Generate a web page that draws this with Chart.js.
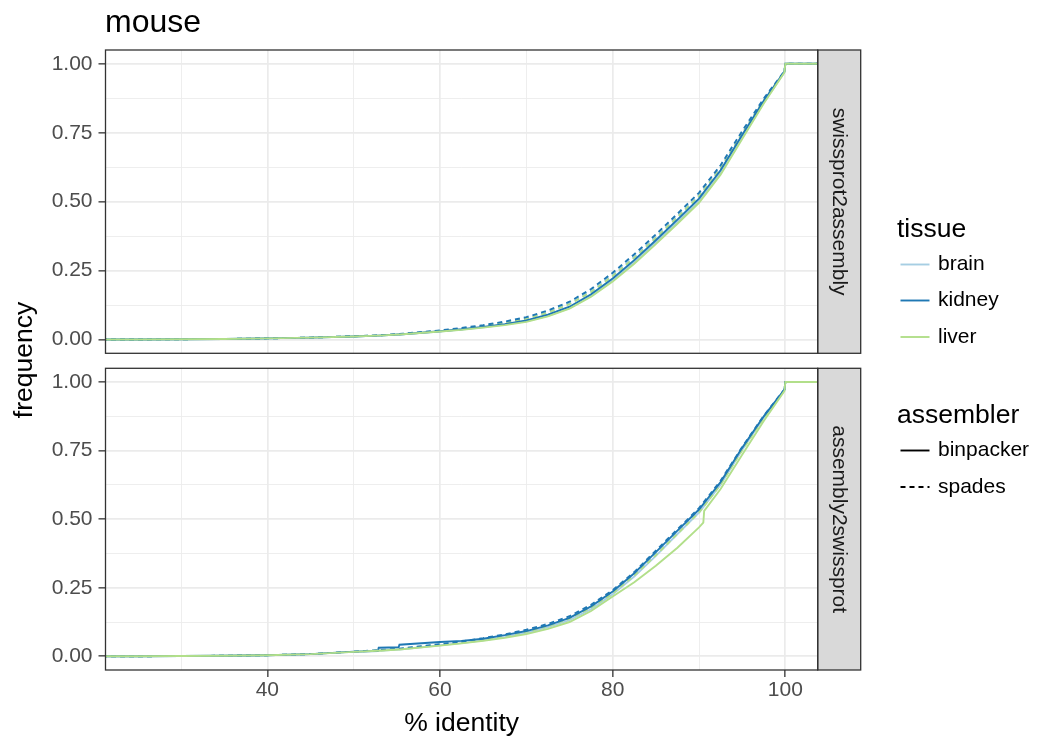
<!DOCTYPE html>
<html>
<head>
<meta charset="utf-8">
<title>mouse</title>
<script src="https://cdn.jsdelivr.net/npm/chart.js@4.4.1/dist/chart.umd.min.js"></script>
<style>
  html, body { margin: 0; padding: 0; background: #ffffff; }
  #wrap { position: relative; width: 1037px; height: 742px; overflow: hidden; }
  #wrap canvas { position: absolute; left: 0; top: 0; }
</style>
</head>
<body>
<div id="wrap">
  <canvas id="panelTop" width="1037" height="742"></canvas>
  <canvas id="panelBottom" width="1037" height="742"></canvas>
</div>
<script>
// ---- data: cumulative frequency of % identity (ECDF), sampled ----
// 0 and 110 stand in for -Inf / +Inf ends of the ECDF steps
const identity = [0, 25, 30, 35, 40, 45, 50, 52.8, 52.9, 55.2, 55.3, 60, 62.5, 65, 67.5, 70, 72.5, 75, 77.5, 80, 82.5, 85, 87.5, 90, 90.5, 90.6, 92.5, 95, 97.5, 99.9, 100, 110];

// swissprot2assembly
const s2aBrainBinpacker  = [0, 0, 0.001, 0.002, 0.004, 0.007, 0.011, 0.014, 0.014, 0.018, 0.018, 0.029, 0.036, 0.044, 0.054, 0.066, 0.086, 0.114, 0.158, 0.214, 0.280, 0.352, 0.426, 0.502, 0.523, 0.527, 0.605, 0.733, 0.860, 0.970, 1, 1];
const s2aKidneyBinpacker = [0, 0, 0.001, 0.002, 0.004, 0.007, 0.011, 0.014, 0.014, 0.018, 0.018, 0.030, 0.037, 0.046, 0.056, 0.069, 0.090, 0.119, 0.164, 0.221, 0.288, 0.360, 0.435, 0.511, 0.532, 0.536, 0.614, 0.742, 0.866, 0.972, 1, 1];
const s2aLiverBinpacker  = [0, 0, 0.001, 0.002, 0.004, 0.007, 0.011, 0.014, 0.014, 0.018, 0.018, 0.029, 0.035, 0.043, 0.052, 0.064, 0.084, 0.112, 0.155, 0.210, 0.275, 0.346, 0.420, 0.496, 0.516, 0.520, 0.598, 0.727, 0.856, 0.969, 1, 1];
const s2aBrainSpades     = [0, 0, 0.001, 0.002, 0.004, 0.007, 0.012, 0.015, 0.015, 0.020, 0.020, 0.032, 0.040, 0.050, 0.062, 0.077, 0.100, 0.131, 0.176, 0.234, 0.301, 0.373, 0.448, 0.524, 0.544, 0.548, 0.625, 0.750, 0.870, 0.972, 1, 1];
const s2aKidneySpades    = [0, 0, 0.001, 0.002, 0.004, 0.007, 0.012, 0.015, 0.015, 0.020, 0.020, 0.033, 0.042, 0.052, 0.065, 0.081, 0.105, 0.137, 0.183, 0.242, 0.309, 0.381, 0.456, 0.532, 0.552, 0.556, 0.632, 0.756, 0.874, 0.973, 1, 1];
const s2aLiverSpades     = [0, 0, 0.001, 0.002, 0.004, 0.007, 0.012, 0.015, 0.015, 0.019, 0.019, 0.031, 0.039, 0.049, 0.060, 0.075, 0.097, 0.128, 0.172, 0.230, 0.296, 0.368, 0.443, 0.519, 0.539, 0.543, 0.620, 0.746, 0.867, 0.971, 1, 1];

// assembly2swissprot
const a2sBrainBinpacker  = [0, 0, 0.001, 0.002, 0.004, 0.008, 0.016, 0.020, 0.020, 0.025, 0.025, 0.040, 0.048, 0.058, 0.070, 0.085, 0.106, 0.132, 0.172, 0.226, 0.291, 0.366, 0.446, 0.524, 0.544, 0.548, 0.626, 0.752, 0.870, 0.971, 1, 1];
const a2sKidneyBinpacker = [0, 0, 0.001, 0.002, 0.004, 0.008, 0.017, 0.019, 0.031, 0.033, 0.042, 0.052, 0.056, 0.064, 0.077, 0.092, 0.113, 0.140, 0.182, 0.236, 0.303, 0.380, 0.458, 0.535, 0.555, 0.559, 0.635, 0.760, 0.875, 0.972, 1, 1];
const a2sLiverBinpacker  = [0, 0, 0.001, 0.002, 0.004, 0.008, 0.016, 0.020, 0.020, 0.025, 0.025, 0.039, 0.047, 0.056, 0.067, 0.081, 0.100, 0.125, 0.165, 0.218, 0.270, 0.330, 0.396, 0.470, 0.487, 0.530, 0.610, 0.735, 0.858, 0.968, 1, 1];
const a2sBrainSpades     = [0, 0, 0.001, 0.002, 0.004, 0.008, 0.017, 0.021, 0.021, 0.027, 0.027, 0.043, 0.052, 0.063, 0.076, 0.092, 0.113, 0.140, 0.180, 0.232, 0.298, 0.372, 0.450, 0.528, 0.548, 0.552, 0.630, 0.755, 0.872, 0.971, 1, 1];
const a2sKidneySpades    = [0, 0, 0.001, 0.002, 0.004, 0.008, 0.017, 0.022, 0.022, 0.028, 0.028, 0.044, 0.054, 0.066, 0.080, 0.097, 0.118, 0.146, 0.188, 0.241, 0.307, 0.385, 0.463, 0.540, 0.560, 0.564, 0.640, 0.763, 0.877, 0.973, 1, 1];
const a2sLiverSpades     = [0, 0, 0.001, 0.002, 0.004, 0.008, 0.017, 0.021, 0.021, 0.026, 0.026, 0.042, 0.051, 0.061, 0.074, 0.089, 0.110, 0.137, 0.177, 0.229, 0.294, 0.368, 0.446, 0.524, 0.544, 0.548, 0.626, 0.751, 0.869, 0.970, 1, 1];

// ---- axes ----
const xMajorTicks = [40, 60, 80, 100];
const xMinorTicks = [30, 50, 70, 90];
const xTickLabels = ['40', '60', '80', '100'];
const yMajorTicks = [0, 0.25, 0.5, 0.75, 1];
const yMinorTicks = [0.125, 0.375, 0.625, 0.875];
const yTickLabels = ['0.00', '0.25', '0.50', '0.75', '1.00'];

// ---- legend / facet text ----
const tissues = ['brain', 'kidney', 'liver'];
const tissueColors = ['#a6cee3', '#1f78b4', '#b2df8a'];
const assemblers = ['binpacker', 'spades'];
const facetLabels = ['swissprot2assembly', 'assembly2swissprot'];

const FONT = '"Liberation Sans", Arial, Helvetica, sans-serif';
const DASH = [5, 4];

function series(values) {
  return values.map((v, i) => ({ x: identity[i], y: v }));
}

function lineSet(label, values, colorIdx, dashed) {
  return {
    label: label,
    data: series(values),
    borderColor: tissueColors[colorIdx],
    borderWidth: 1.9,
    borderDash: dashed ? DASH : [],
    pointRadius: 0,
    fill: false,
    tension: 0,
    spanGaps: true
  };
}

function isMajor(list, v) {
  return list.some(t => Math.abs(t - v) < 1e-9);
}

function makeScales(showX) {
  const xGrid = xMajorTicks.concat(xMinorTicks).sort((a, b) => a - b);
  const yGrid = yMajorTicks.concat(yMinorTicks).sort((a, b) => a - b);
  return {
    x: {
      type: 'linear',
      min: 21.25,
      max: 103.75,
      afterBuildTicks: s => { s.ticks = xGrid.map(v => ({ value: v })); },
      afterFit: s => { s.height = showX ? 72 : 0; },
      border: { display: false },
      grid: {
        color: '#ebebeb',
        lineWidth: c => (c.tick && isMajor(xMajorTicks, c.tick.value)) ? 1.7 : 0.85,
        drawTicks: showX,
        tickLength: 7,
        tickWidth: 1.3,
        tickColor: c => (c.tick && isMajor(xMajorTicks, c.tick.value)) ? '#333333' : 'rgba(0,0,0,0)'
      },
      ticks: {
        display: showX,
        autoSkip: false,
        maxRotation: 0,
        padding: 1,
        color: '#4d4d4d',
        font: { family: FONT, size: 21 },
        callback: v => {
          const i = xMajorTicks.findIndex(t => Math.abs(t - v) < 1e-9);
          return i >= 0 ? xTickLabels[i] : '';
        }
      },
      title: {
        display: showX,
        text: '% identity',
        color: '#000000',
        font: { family: FONT, size: 26.5 },
        padding: { top: 0, bottom: 2 }
      }
    },
    y: {
      type: 'linear',
      min: -0.05,
      max: 1.05,
      afterBuildTicks: s => { s.ticks = yGrid.map(v => ({ value: v })); },
      afterFit: s => { s.width = 105.5; },
      border: { display: false },
      grid: {
        color: '#ebebeb',
        lineWidth: c => (c.tick && isMajor(yMajorTicks, c.tick.value)) ? 1.7 : 0.85,
        drawTicks: true,
        tickLength: 7,
        tickWidth: 1.3,
        tickColor: c => (c.tick && isMajor(yMajorTicks, c.tick.value)) ? '#333333' : 'rgba(0,0,0,0)'
      },
      ticks: {
        autoSkip: false,
        padding: 6,
        color: '#4d4d4d',
        font: { family: FONT, size: 21 },
        callback: v => {
          const i = yMajorTicks.findIndex(t => Math.abs(t - v) < 1e-9);
          return i >= 0 ? yTickLabels[i] : '';
        }
      }
    }
  };
}

// panel frame + facet strip on the right
function panelDecor(stripText) {
  return {
    id: 'panelDecor',
    afterDraw(chart) {
      const { ctx, chartArea: a } = chart;
      ctx.save();
      // strip
      const sx = a.right, sw = 43;
      ctx.fillStyle = '#d9d9d9';
      ctx.fillRect(sx, a.top, sw, a.bottom - a.top);
      ctx.strokeStyle = '#333333';
      ctx.lineWidth = 1.3;
      ctx.strokeRect(sx, a.top, sw, a.bottom - a.top);
      ctx.translate(sx + sw / 2, (a.top + a.bottom) / 2);
      ctx.rotate(Math.PI / 2);
      ctx.fillStyle = '#1a1a1a';
      ctx.font = '21px ' + FONT;
      ctx.textAlign = 'center';
      ctx.textBaseline = 'middle';
      ctx.fillText(stripText, 0, 0);
      ctx.restore();
      // panel border
      ctx.save();
      ctx.strokeStyle = '#333333';
      ctx.lineWidth = 1.3;
      ctx.strokeRect(a.left, a.top, a.right - a.left, a.bottom - a.top);
      ctx.restore();
    }
  };
}

// plot title, shared y title and the two legend groups
const pageText = {
  id: 'pageText',
  afterDraw(chart) {
    const ctx = chart.ctx;
    ctx.save();
    ctx.fillStyle = '#000000';
    ctx.textAlign = 'left';
    ctx.textBaseline = 'alphabetic';
    ctx.font = '32px ' + FONT;
    ctx.fillText('mouse', 105, 32);

    // y title
    ctx.save();
    ctx.translate(32, 360);
    ctx.rotate(-Math.PI / 2);
    ctx.textAlign = 'center';
    ctx.font = '26.5px ' + FONT;
    ctx.fillText('frequency', 0, 0);
    ctx.restore();

    // legend: tissue
    ctx.font = '26.5px ' + FONT;
    ctx.fillText('tissue', 897, 237);
    const tissueY = [264.5, 300.5, 337];
    tissues.forEach((t, i) => {
      ctx.strokeStyle = tissueColors[i];
      ctx.lineWidth = 1.9;
      ctx.setLineDash([]);
      ctx.beginPath();
      ctx.moveTo(900.5, tissueY[i]);
      ctx.lineTo(929.5, tissueY[i]);
      ctx.stroke();
      ctx.fillStyle = '#000000';
      ctx.font = '21px ' + FONT;
      ctx.textBaseline = 'middle';
      ctx.fillText(t, 938, tissueY[i]);
      ctx.textBaseline = 'alphabetic';
    });

    // legend: assembler
    ctx.font = '26.5px ' + FONT;
    ctx.fillText('assembler', 897, 423);
    const asmY = [450.5, 487];
    assemblers.forEach((s, i) => {
      ctx.strokeStyle = '#000000';
      ctx.lineWidth = 1.9;
      ctx.setLineDash(i === 1 ? DASH : []);
      ctx.beginPath();
      ctx.moveTo(900.5, asmY[i]);
      ctx.lineTo(929.5, asmY[i]);
      ctx.stroke();
      ctx.setLineDash([]);
      ctx.font = '21px ' + FONT;
      ctx.textBaseline = 'middle';
      ctx.fillText(s, 938, asmY[i]);
      ctx.textBaseline = 'alphabetic';
    });
    ctx.restore();
  }
};

function makePanel(canvasId, sets, stripText, isBottom, extraPlugins) {
  return new Chart(document.getElementById(canvasId), {
    type: 'line',
    data: { datasets: sets },
    options: {
      responsive: false,
      animation: false,
      devicePixelRatio: 1,
      events: [],
      layout: {
        padding: isBottom
          ? { left: 0, top: 368.3, right: 219.3, bottom: 0 }
          : { left: 0, top: 50, right: 219.3, bottom: 388.7 }
      },
      plugins: { legend: { display: false }, tooltip: { enabled: false }, title: { display: false } },
      scales: makeScales(isBottom)
    },
    plugins: [panelDecor(stripText)].concat(extraPlugins || [])
  });
}

// dataset 0 is drawn last (on top)
const topSets = [
  lineSet('liver binpacker', s2aLiverBinpacker, 2, false),
  lineSet('kidney spades', s2aKidneySpades, 1, true),
  lineSet('kidney binpacker', s2aKidneyBinpacker, 1, false),
  lineSet('liver spades', s2aLiverSpades, 2, true),
  lineSet('brain spades', s2aBrainSpades, 0, true),
  lineSet('brain binpacker', s2aBrainBinpacker, 0, false)
];
const bottomSets = [
  lineSet('liver binpacker', a2sLiverBinpacker, 2, false),
  lineSet('kidney spades', a2sKidneySpades, 1, true),
  lineSet('kidney binpacker', a2sKidneyBinpacker, 1, false),
  lineSet('liver spades', a2sLiverSpades, 2, true),
  lineSet('brain spades', a2sBrainSpades, 0, true),
  lineSet('brain binpacker', a2sBrainBinpacker, 0, false)
];

makePanel('panelTop', topSets, facetLabels[0], false, [pageText]);
makePanel('panelBottom', bottomSets, facetLabels[1], true, []);
</script>
</body>
</html>
